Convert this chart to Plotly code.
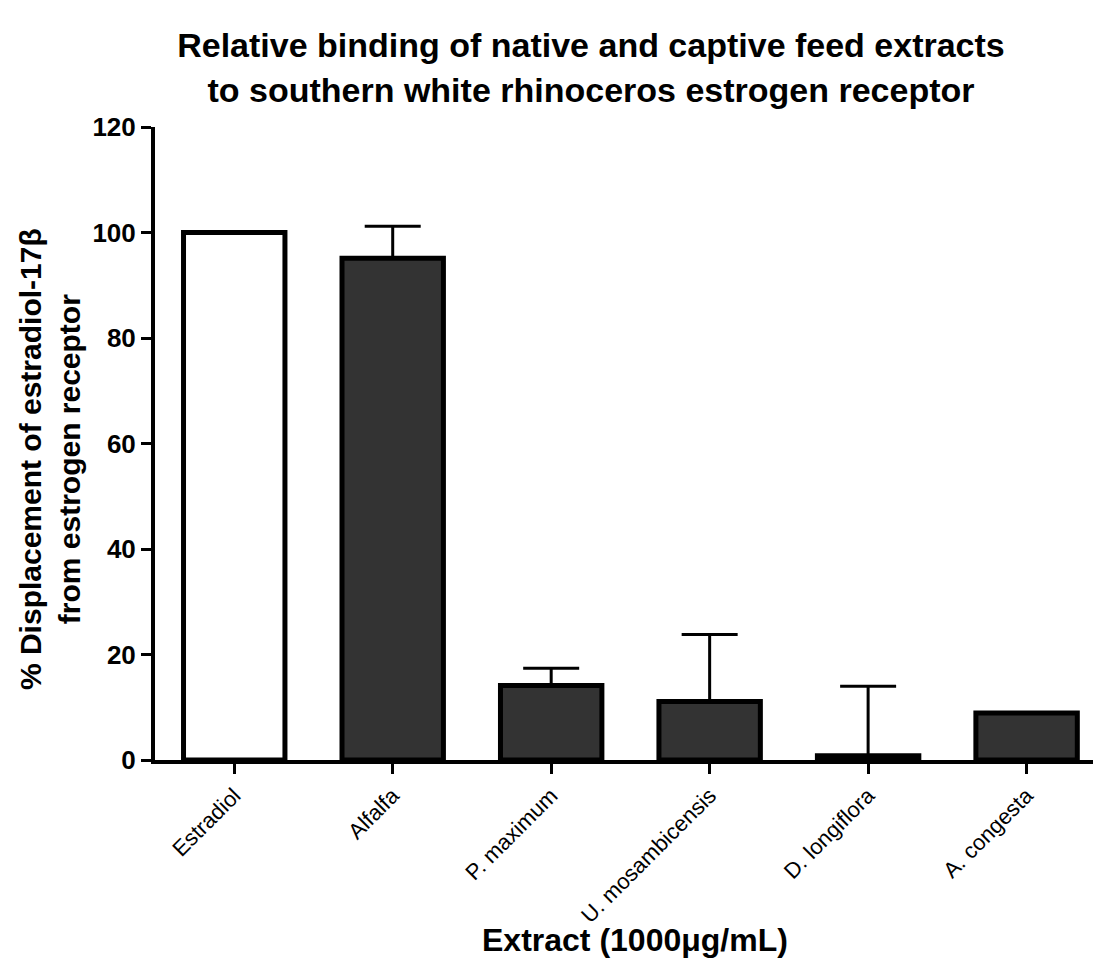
import plotly.graph_objects as go

categories = ["Estradiol", "Alfalfa", "P. maximum", "U. mosambicensis", "D. longiflora", "A. congesta"]
values = [100, 95.1, 14.1, 11.1, 0.8, 8.9]
errors_up = [0, 6.1, 3.3, 12.7, 13.2, 0]
fill_colors = ["#ffffff", "#333333", "#333333", "#333333", "#333333", "#333333"]
y_ticks = [0, 20, 40, 60, 80, 100, 120]

FONT = "Liberation Sans, Arial, sans-serif"

fig = go.Figure()
fig.add_trace(go.Bar(
    x=list(range(len(categories))),
    y=values,
    width=0.64,
    marker=dict(color=fill_colors, line=dict(color="black", width=5)),
    error_y=dict(type="data", array=errors_up, arrayminus=[0] * len(values),
                 symmetric=False, color="black", thickness=3, width=28),
))

fig.update_layout(
    width=1101, height=967,
    margin=dict(l=147, r=0, t=119, b=215),
    paper_bgcolor="white", plot_bgcolor="white",
    showlegend=False,
    title=dict(
        text="<b>Relative binding of native and captive feed extracts<br>to southern white rhinoceros estrogen receptor</b>",
        x=0.5295, xanchor="center", y=0.949, yanchor="middle", yref="container",
        font=dict(family=FONT, size=34, color="black"),
    ),
    xaxis=dict(
        range=[-0.5, 5.52],
        tickmode="array", tickvals=list(range(len(categories))), ticktext=categories,
        tickangle=-45, tickfont=dict(family=FONT, size=22, color="black"),
        showline=True, linecolor="black", linewidth=4,
        ticks="outside", ticklen=10, tickwidth=3, tickcolor="black",
        showgrid=False, zeroline=False,
    ),
    yaxis=dict(
        range=[0, 120], tickmode="array", tickvals=y_ticks,
        ticktext=[f"<b>{v}</b>" for v in y_ticks],
        tickfont=dict(family=FONT, size=26, color="black"),
        showline=True, linecolor="black", linewidth=4,
        ticks="outside", ticklen=10, tickwidth=3, tickcolor="black",
        showgrid=False, zeroline=False,
    ),
    annotations=[
        dict(text="<b>% Displacement of estradiol-17β<br>from estrogen receptor</b>",
             xref="paper", yref="paper", x=-0.11, y=0.4755, textangle=-90,
             xanchor="center", yanchor="middle", showarrow=False,
             font=dict(family=FONT, size=30, color="black")),
        dict(text="<b>Extract (1000μg/mL)</b>",
             xref="paper", yref="paper", x=0.503, y=-0.284,
             xanchor="center", yanchor="middle", showarrow=False,
             font=dict(family=FONT, size=32, color="black")),
    ],
)

fig.write_html("out.html")
